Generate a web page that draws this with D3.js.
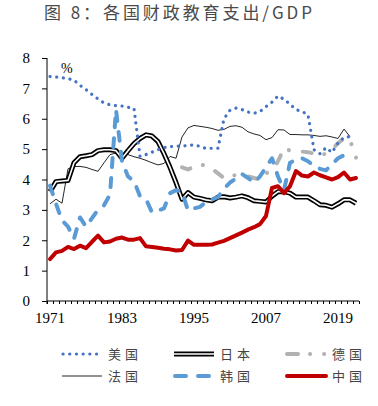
<!DOCTYPE html>
<html><head><meta charset="utf-8">
<script src="https://cdn.jsdelivr.net/npm/d3@7"></script>
<style>html,body{margin:0;padding:0;background:#fff;}svg{display:block;}</style>
</head><body>
<svg id="chart" width="378" height="406"></svg>
<script>
const years = d3.range(1971, 2023);
const yTicks = [0,1,2,3,4,5,6,7,8];
const xLabels = [1971, 1983, 1995, 2007, 2019];
const title = "图 8：各国财政教育支出/GDP";
const unitLabel = "%";

const usa = [7.39,7.37,7.35,7.32,7.27,7.1,6.96,6.8,6.65,6.52,
  6.46,6.43,6.42,6.38,6.34,4.76,4.82,4.9,4.98,5.05,
  5.08,5.1,5.1,5.12,5.14,5.09,5.02,5.03,5.03,6.0,
  6.28,6.35,6.3,6.22,6.18,6.24,6.4,6.55,6.75,6.64,
  6.48,6.3,6.24,6.13,4.98,4.85,5.05,4.89,5.2,5.39,
  5.41,null];
const japan = [3.6,3.93,3.95,3.97,4.55,4.75,4.78,4.82,4.95,4.98,
  4.98,4.95,4.7,4.95,5.18,5.35,5.47,5.43,5.25,4.85,
  4.4,3.9,3.35,3.57,3.42,3.38,3.33,3.3,3.42,3.43,
  3.39,3.42,3.46,3.4,3.3,3.28,3.26,3.45,3.6,3.6,
  3.55,3.42,3.42,3.42,3.3,3.17,3.15,3.09,3.2,3.33,
  3.33,3.22];
const germany = [null,null,null,null,null,null,null,null,null,null,
  null,null,null,null,null,null,null,null,null,null,
  null,null,4.4,4.33,4.42,4.47,4.48,4.35,4.2,4.05,
  4.1,4.15,4.13,4.1,4.05,3.99,4.2,4.3,4.6,5.03,
  4.95,4.94,4.92,4.9,4.85,4.8,4.85,4.98,5.2,5.35,
  5.3,4.72];
const france = [3.2,3.35,3.22,4.35,4.43,4.43,4.4,4.33,4.27,4.55,
  4.82,4.87,4.85,4.82,4.75,4.7,4.63,4.55,4.48,4.53,
  4.76,4.7,5.4,5.7,5.78,5.75,5.72,5.68,5.62,5.65,
  5.75,5.77,5.72,5.57,5.5,5.45,5.31,5.38,5.64,5.63,
  5.48,5.48,5.47,5.47,5.45,5.42,5.44,5.4,5.35,5.66,
  5.41,null];
const korea = [3.8,3.2,2.65,2.45,2.05,2.75,2.45,2.73,3.0,3.15,
  3.5,6.3,4.6,4.1,3.95,3.45,3.35,2.92,2.98,3.05,
  3.55,3.65,3.6,2.98,3.05,3.1,3.25,3.35,3.42,3.7,
  3.9,4.03,4.18,4.05,3.9,4.1,4.4,4.7,4.1,3.65,
  4.55,4.65,4.7,4.6,4.45,4.35,4.3,4.5,4.7,4.8,
  4.9,null];
const china = [1.38,1.6,1.65,1.78,1.71,1.82,1.74,1.95,2.15,1.93,
  1.96,2.05,2.09,2.02,2.02,2.07,1.8,1.78,1.75,1.72,
  1.7,1.66,1.68,1.99,1.85,1.85,1.85,1.86,1.92,1.98,
  2.07,2.16,2.25,2.35,2.43,2.53,2.8,3.72,3.78,3.55,
  3.78,4.28,4.13,4.1,4.23,4.14,4.07,4.0,4.08,4.23,
  4.0,4.05];

const legendNames = ["美国","日本","德国","法国","韩国","中国"];

const svg = d3.select("#chart");
const x = d3.scaleLinear().domain([1970.5, 2022.5]).range([47, 359]);
const y = d3.scaleLinear().domain([0, 8]).range([301, 58]);

// title
svg.append("text").attr("x", 44).attr("y", 19)
  .attr("font-family", "'Noto Sans CJK SC', sans-serif")
  .attr("font-size", 17).attr("fill", "#4a4a4a")
  .attr("textLength", 268).attr("lengthAdjust", "spacing")
  .text(title);

// y axis
const yAxis = d3.axisLeft(y).tickValues(yTicks).tickSize(5).tickPadding(12).tickFormat(d3.format("d"));
const gy = svg.append("g").attr("transform", "translate(47,0)").call(yAxis);
gy.select(".domain").attr("d", `M0,${y(8)}V${y(0)+3}`).attr("stroke", "#000");
gy.selectAll(".tick line").attr("stroke", "#000");
gy.selectAll(".tick text").attr("font-family", "'Liberation Serif', serif").attr("font-size", 15).attr("fill", "#000");

// x axis
const xTickVals = d3.range(1970.5, 2023, 1);
const xAxis = d3.axisBottom(x).tickValues(xTickVals).tickSize(3).tickFormat("");
const gx = svg.append("g").attr("transform", "translate(0,301)").call(xAxis);
gx.select(".domain").attr("d", `M${x(1970.5)},0H${x(2022.5)}`).attr("stroke", "#000");
gx.selectAll(".tick line").attr("stroke", "#000");
svg.append("g").selectAll("text").data(xLabels).join("text")
  .attr("x", d => x(d)).attr("y", 323).attr("text-anchor", "middle")
  .attr("font-family", "'Liberation Serif', serif").attr("font-size", 15).attr("fill", "#000")
  .text(d => d);

svg.append("text").attr("x", 61).attr("y", 73)
  .attr("font-family", "'Liberation Serif', serif").attr("font-size", 14).attr("fill", "#000")
  .text(unitLabel);

const line = arr => d3.line().defined((d,i) => arr[i] != null)
  .x((d,i) => x(years[i])).y((d,i) => y(arr[i]))(years);

const plot = svg.append("g");
function drawSeries(arr, style) {
  plot.append("path").attr("d", line(arr)).attr("fill", "none")
    .attr("stroke", style.color).attr("stroke-width", style.width)
    .attr("stroke-dasharray", style.dash || null)
    .attr("stroke-linecap", style.cap || "butt")
    .attr("stroke-linejoin", "round");
}
const styles = {
  usa: {color: "#4472C4", width: 3.2, dash: "0.1,6.6", cap: "round"},
  japanOuter: {color: "#000", width: 5},
  japanInner: {color: "#fff", width: 1.6},
  germany: {color: "#B2B2B2", width: 4, dash: "9,13,0.1,14", cap: "round"},
  france: {color: "#262626", width: 1},
  korea: {color: "#5B9BD5", width: 4, dash: "9,11", cap: "round"},
  china: {color: "#C00000", width: 4, cap: "round"}
};
drawSeries(france, styles.france);
drawSeries(germany, styles.germany);
drawSeries(japan, styles.japanOuter);
drawSeries(japan, styles.japanInner);
drawSeries(korea, styles.korea);
drawSeries(usa, styles.usa);
drawSeries(china, styles.china);

// legend
const legend = svg.append("g");
const legItems = [
  {name: legendNames[0], col: 0, row: 0, st: [styles.usa]},
  {name: legendNames[1], col: 1, row: 0, st: [styles.japanOuter, styles.japanInner]},
  {name: legendNames[2], col: 2, row: 0, st: [{color: "#B2B2B2", width: 4, dash: "11,12,0.1,14,0.1,20", cap: "round"}]},
  {name: legendNames[3], col: 0, row: 1, st: [styles.france]},
  {name: legendNames[4], col: 1, row: 1, st: [{color: "#5B9BD5", width: 4, dash: "11,12", cap: "round"}]},
  {name: legendNames[5], col: 2, row: 1, st: [styles.china]}
];
const colX = [62, 174, 286], rowY = [354, 376];
legItems.forEach(it => {
  const x0 = colX[it.col], yy = rowY[it.row];
  it.st.forEach(s => {
    legend.append("line").attr("x1", x0 + (s.cap === "round" ? 1 : 0)).attr("x2", x0 + 40).attr("y1", yy).attr("y2", yy)
      .attr("stroke", s.color).attr("stroke-width", s.width)
      .attr("stroke-dasharray", s.dash || null).attr("stroke-linecap", s.cap || "butt");
  });
  legend.append("text").attr("x", x0 + 46).attr("y", yy + 5)
    .attr("font-family", "'Noto Sans CJK SC', sans-serif").attr("font-size", 13)
    .attr("letter-spacing", 4).attr("fill", "#444").text(it.name);
});
</script>
</body></html>
